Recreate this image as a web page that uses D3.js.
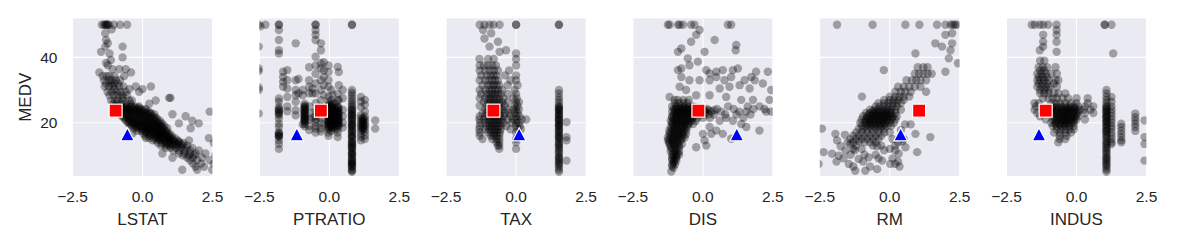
<!DOCTYPE html>
<html>
<head>
<meta charset="utf-8">
<script src="https://cdn.jsdelivr.net/npm/d3@7"></script>
<style>
  body { margin: 0; background: #ffffff; }
  svg text { font-family: "Liberation Sans", Arial, sans-serif; fill: #262626; }
</style>
</head>
<body>
<script>
// feature names, one panel each (x = standardized feature, y = MEDV)
var features = ["LSTAT", "PTRATIO", "TAX", "DIS", "RM", "INDUS"];

// two highlighted samples
var redMedv = 23.7;
var redX = [-0.96, -0.30, -0.81, -0.16, 1.05, -1.10];
var blueMedv = 16.4;
var blueX = [-0.54, -1.16, 0.11, 1.21, 0.39, -1.34];

var yTicks = [20, 40];
var xTicks = [-2.5, 0, 2.5];

// rows: [MEDV, [feature values at that MEDV]]
var lstatRows = [
  [50, [-1.45, -1.38, -1.33, -1.3, -1.27, -1.24, -1.2, -1.02, -0.8, -0.55]],
  [48.6, [-1.1]], [47.4, [-1.33]], [45.3, [-1.3]], [44.3, [-1.24]],
  [43.3, [-1.33, -0.71]], [41.7, [-1.48]], [41.2, [-1.18]], [40, [-0.71]],
  [39.2, [-1.13]], [38.3, [-1.3]], [37.6, [-1.24]],
  [36.4, [-1.07, -0.83, -0.6]], [35.4, [-1.54, -0.41]],
  [34.3, [-1.42, -1.28, -1.18, -1.0, -0.65]],
  [33, [-1.38, -1.2, -1.1, -0.95, -0.8]],
  [32, [-1.3, -1.13, -1.02, -0.88]],
  [31.1, [-1.35, -1.2, -1.05, -0.83, -0.68, -0.24, 0.3]],
  [30.3, [-1.0, -0.47, 0.0]],
  [29.5, [-1.25, -1.1, -0.92, -0.78, -0.6, -0.12]],
  [28.4, [-1.18, -1.02, -0.87, -0.72, -0.55]],
  [27.6, [-0.71, 0.95, 1.0]],
  [26.8, [-1.12, -0.98, -0.89, -0.7, -0.47, -0.38, 0.47]],
  [25.8, [-1.05, -0.9, -0.75, -0.6, -0.42, 0.24]],
  [25, [-1.0, -0.85, -0.7, -0.55, -0.4, -0.28, -0.12]],
  [24.6, [-0.9, -0.72, -0.58, -0.44, -0.3, -0.14]],
  [24.2, [-0.95, -0.78, -0.62, -0.5, -0.35, -0.18, -0.05, 0.12]],
  [23.8, [-0.82, -0.66, -0.52, -0.38, -0.22, -0.08, 0.08]],
  [23.4, [-0.88, -0.7, -0.56, -0.42, -0.26, -0.1, 0.05, 0.22, 2.4]],
  [23, [-0.76, -0.6, -0.46, -0.3, -0.14, 0.0, 0.16, 0.3]],
  [22.6, [-0.8, -0.64, -0.5, -0.35, -0.18, -0.04, 0.12, 0.28, 0.42, 1.07]],
  [22, [-0.72, -0.58, -0.42, -0.26, -0.1, 0.06, 0.2, 0.36, 1.54]],
  [21.6, [-0.62, -0.46, -0.32, -0.16, 0.0, 0.14, 0.3, 0.46]],
  [21.2, [-0.65, -0.5, -0.36, -0.2, -0.06, 0.1, 0.24, 0.4, 0.52]],
  [20.6, [-0.58, -0.44, -0.3, -0.14, 0.0, 0.16, 0.3, 0.46, 0.62, 1.78]],
  [20.2, [-0.5, -0.34, -0.2, -0.04, 0.1, 0.26, 0.42, 0.56]],
  [19.8, [-0.5, -0.36, -0.22, -0.06, 0.1, 0.24, 0.38, 0.54, 0.7, 1.3, 2.01]],
  [19.4, [-0.4, -0.24, -0.1, 0.06, 0.2, 0.36, 0.5, 0.66]],
  [19, [-0.42, -0.28, -0.12, 0.04, 0.18, 0.32, 0.48, 0.62, 0.78]],
  [18.7, [-0.2, -0.06, 0.08, 0.24, 0.38, 0.54, 0.68]],
  [18.3, [-0.3, -0.16, 0.0, 0.14, 0.3, 0.44, 0.58, 0.72, 0.88, 1.72]],
  [17.9, [0.0, 0.16, 0.3, 0.46, 0.6, 0.76]],
  [17.5, [-0.2, -0.04, 0.12, 0.26, 0.4, 0.56, 0.7, 0.86]],
  [17.1, [0.1, 0.24, 0.4, 0.54, 0.7, 0.84]],
  [16.7, [-0.36, 0.02, 0.18, 0.34, 0.5, 0.64, 0.8, 0.96, 0.59]],
  [16.3, [0.3, 0.46, 0.62, 0.78, 0.92]],
  [16, [0.1, 0.26, 0.42, 0.58, 0.72, 0.88, 1.04]],
  [15.6, [0.5, 0.66, 0.82, 0.98]],
  [15.3, [0.12, 0.24, 0.4, 0.55, 0.7, 0.86, 1.0, 1.16, 2.37]],
  [14.9, [0.6, 0.76, 0.92, 1.08]],
  [14.6, [0.36, 0.5, 0.66, 0.8, 0.96, 1.1, 1.26, 1.66]],
  [14.2, [0.8, 0.96, 1.12, 1.3]],
  [13.8, [0.55, 0.7, 0.86, 1.0, 1.16, 1.3, 1.46, 2.55]],
  [13.4, [0.9, 1.06, 1.22, 1.38]],
  [13, [0.66, 0.82, 0.98, 1.12, 1.28, 1.44, 1.6]],
  [12.3, [0.83, 1.0, 1.2, 1.38, 1.56, 1.78]],
  [11.5, [1.1, 1.3, 1.5, 1.7, 2.01]],
  [10.6, [0.71, 1.3, 1.5, 1.7, 1.9, 2.25]],
  [10, [1.45, 1.65, 1.85, 2.6]],
  [9.3, [1.07, 1.6, 1.8, 2.13]],
  [8.5, [1.7, 1.95, 2.4]],
  [7.5, [1.8, 2.1, 2.55]],
  [6.5, [1.9, 2.2]],
  [5.6, [1.42, 1.95, 2.49]]
];

// columns: [feature value, [MEDV values in that column]]
var ptratioCols = [
  [-2.52, [50, 43.3, 36.6, 35.8, 30.8, 30, 22.8]],
  [-2.46, [49.5]],
  [-2.28, [50]],
  [-1.8, [50, 50, 48.4, 45.3, 42.2, 41.2, 27.4, 26.4, 24.8, 24.2, 23.8, 23.6, 23, 22.8, 22.3, 21.2, 19.7, 18.7, 17.1, 16.8, 16.3, 16.1, 15.9, 15.6, 14.6, 13.5, 12]],
  [-1.65, [35.6, 34, 32.5, 31]],
  [-1.5, [36.1, 33, 30.5, 27.9, 25, 23.5]],
  [-1.2, [44.3, 33, 30, 28.4, 26.4, 23.8, 22.3]],
  [-1.1, [33.4, 29]],
  [-0.95, [30, 28.4, 19.5]],
  [-0.88, [25.8, 25.2, 24.9, 24.6, 24.3, 24, 23.7, 23.4, 23.1, 22.8, 22.5, 22.2, 21.9, 21.6, 21.3, 21, 20.8, 20.5, 20.2, 19.7, 18.9]],
  [-0.72, [37, 33, 31, 29, 25, 21, 19, 17.8]],
  [-0.6, [30.5, 29, 23, 21.5]],
  [-0.49, [50, 50, 48.4, 46.9, 45.3, 40.2, 37.5, 35, 32, 29, 26, 23.6, 22, 21, 20.2, 19, 18.2, 17]],
  [-0.3, [44.3, 42.2, 38.2, 36.6, 33, 30, 26.9, 24.8, 23, 21.5, 20, 18.2, 17.3]],
  [-0.2, [38.5, 36, 34, 31.5, 28.5, 19.5]],
  [-0.03, [37.5, 35.5, 33, 31, 28, 26.5, 25.5, 25.1, 24.8, 24.4, 24, 23.6, 23.2, 22.8, 22.4, 22.1, 21.7, 21.4, 21, 20.6, 20.3, 19.9, 19.6, 19.2, 18.8, 18.4, 18, 17, 16]],
  [0.07, [30, 27, 25.5, 25, 24.5, 24.2, 23.7, 23.4, 22.9, 22.6, 22.2, 21.9, 21.5, 21.2, 20.8, 20.4, 20, 19.6, 19.2, 18.9, 18.5, 17.5]],
  [0.11, [28.6, 26, 24.9, 24, 23.2, 22.5, 21.8, 21, 20.2, 19.4, 18.6]],
  [0.2, [26, 24.5, 23.8, 23, 22.4, 21.6, 20.9, 20.1, 19.4, 18.7, 17.9]],
  [0.3, [37.1, 28.9, 26.8, 25, 24.6, 24, 23.5, 23, 22.6, 22.2, 21.8, 21.4, 21, 20.6, 20.2, 19.8, 19.4, 19, 18.1, 17, 15.6]],
  [0.34, [35.5, 31.5, 27, 24.5, 23.5, 22.6, 21.7, 20.8, 20, 19.2]],
  [0.48, [30, 27.5, 24, 22, 20, 18.5]],
  [0.81, [50, 50, 30, 29.2, 28.4, 27.5, 26.7, 26, 25.3, 24.8, 24.1, 23.9, 23.7, 23.1, 22.6, 22.4, 22.2, 21.7, 21.2, 21, 20.6, 20.1, 19.6, 19.4, 19.1, 18.8, 18.4, 17.8, 17.5, 17.2, 16.7, 16.1, 15.9, 15.6, 15.2, 14.5, 14.1, 13.9, 13.4, 13.1, 12.7, 12.4, 12.1, 11.7, 11.0, 10.7, 10.4, 10.2, 9.6, 9.2, 8.8, 8.4, 8.1, 7.8, 7.5, 7.2, 7.0, 6.6, 6.3, 5.6, 5.3, 5.0]],
  [1.13, [27.9, 26.5, 24.8, 22.3, 21.5, 20.6, 19.8, 19.1, 18.4, 17.6, 16.6, 15.6, 14.6]],
  [1.2, [21.4, 20.9, 20.4, 20, 19.4, 18.8, 18.4, 17.9]],
  [1.27, [27, 25.5, 23.4, 21.9, 21.1, 20.3, 19.5, 18.9, 18.1, 17.2, 16.1, 15]],
  [1.64, [20.7, 18.2]]
];

var taxRows = [
  [50, [-1.3, -1.13, -0.95, -0.81, -0.59, 0.0, 0.0]],
  [48.4, [-1.18]], [47.4, [-0.89]], [45.8, [-1.13]], [44.8, [-0.65]],
  [43.3, [-0.95]], [42.2, [-0.36]], [41.7, [-0.59]], [41.2, [0.0]],
  [39.5, [-1.31, -1.0, -0.8, 0.0]],
  [37.5, [-1.3, -1.15, -1.0, -0.85, -0.72, 0.0]],
  [36, [-1.3, -1.1, -0.95, -0.8, -0.65, -0.25]],
  [34.5, [-1.25, -1.05, -0.9, -0.8, -0.7, -0.4, 0.0]],
  [33, [-1.3, -1.1, -0.97, -0.85, -0.75, -0.65, -0.2, 0.0]],
  [31.5, [-1.2, -1.0, -0.9, -0.8, -0.7, -0.6, -0.3, 0.05]],
  [30, [-1.3, -1.1, -0.95, -0.85, -0.75, -0.65, -0.5, -0.05]],
  [28.8, [-1.25, -1.05, -0.95, -0.85, -0.75, -0.65, -0.55, -0.3, 0.0]],
  [27.5, [-1.3, -1.1, -0.97, -0.9, -0.8, -0.7, -0.6, -0.45, -0.1, 0.02]],
  [26.3, [-1.15, -1.0, -0.9, -0.8, -0.7, -0.6, -0.5, -0.3, 0.0, 0.1]],
  [25.2, [-1.3, -1.05, -0.95, -0.85, -0.75, -0.65, -0.55, -0.4, -0.05, 0.05]],
  [24.1, [-1.1, -1.0, -0.9, -0.8, -0.7, -0.6, -0.5, -0.3, -0.1, 0.0, 0.1]],
  [23, [-1.2, -1.05, -0.95, -0.85, -0.75, -0.65, -0.55, -0.4, -0.25, -0.05, 0.05]],
  [22, [-1.3, -1.1, -0.97, -0.87, -0.77, -0.67, -0.57, -0.45, -0.2, 0.0, 0.12]],
  [21, [-1.31, -1.14, -1.0, -0.9, -0.8, -0.7, -0.6, -0.5, -0.3, -0.1, 0.02, 0.2, 0.36]],
  [20, [-1.28, -1.1, -0.97, -0.87, -0.77, -0.67, -0.57, -0.45, -0.15, 0.0, 0.1]],
  [19, [-1.3, -1.05, -0.95, -0.85, -0.75, -0.65, -0.55, -0.35, 0.0, 0.13]],
  [18, [-1.31, -1.1, -0.95, -0.85, -0.75, -0.65, -0.55, -0.2, 0.05, 0.17]],
  [17, [-1.3, -1.0, -0.88, -0.78, -0.68, -0.58, 0.0]],
  [16, [-1.3, -0.9, -0.8, -0.7, -0.6, 0.1]],
  [15, [-1.2, -0.85, -0.7, -0.6, 0.0]],
  [14, [-0.7, -0.6, 0.0]],
  [13, [-0.65, -0.6]],
  [12, [-0.6, 0.0]]
];
var taxCols = [
  [1.53, [50, 50, 30, 29, 27.9, 27, 26.1, 25.3, 24.8, 24.5, 24.2, 23.9, 23.6, 23.1, 22.7, 22.4, 22.1, 21.6, 21.1, 20.9, 20.7, 20.2, 19.6, 19.4, 19.2, 18.8, 18.3, 17.8, 17.5, 17.1, 16.6, 16.1, 15.6, 15.4, 15.1, 14.4, 13.9, 13.4, 13.0, 12.6, 12.0, 11.5, 10.9, 10.4, 9.7, 9.3, 8.9, 8.4, 7.9, 7.4, 7.0, 6.4, 5.6, 5.0]],
  [1.8, [20.2, 15.6, 14.6, 8.4]]
];

var disRows = [
  [50, [-1.25, -1.19, -0.89, -0.83, -0.71, -0.42, -0.3, 0.89, 1.01]],
  [48.4, [-0.12]], [46.9, [-0.24]], [45.3, [0.42]], [44.8, [-0.42]],
  [43.8, [1.19]], [42.7, [-0.77]], [42.2, [1.17]], [41.7, [-0.89, 0.06]],
  [39.7, [-0.54]], [38.7, [-0.18]], [37.6, [-0.48]],
  [36.6, [-0.77, 1.25]], [36.1, [-0.89, 0.12, 0.71, 1.07]],
  [35.6, [0.48, 1.9, 2.32]], [35.1, [0.24]],
  [34, [-0.77, 0.48, 1.01, 1.73]],
  [33, [-0.48, -0.12, 0.24, 0.77, 1.49, 1.85]],
  [32, [2.14]], [31.5, [1.31]],
  [31, [-0.83, 0.95]], [30.5, [0.6, 1.67]], [30, [-0.6, 2.44]],
  [28.4, [-0.24, 0.24]], [27.9, [-1.19, 0.83]],
  [27, [-1.01, -0.9, -0.7, -0.5, 1.37, 1.79, 2.38]],
  [26, [-1.0, -0.85, -0.7, -0.55]],
  [25, [-1.1, -0.95, -0.8, -0.65, -0.5, -0.35, 0.9, 1.6, 2.02]],
  [24.6, [-0.95, -0.8, -0.65, -0.5, -0.35, -0.2]],
  [24.2, [-1.05, -0.9, -0.75, -0.6, -0.45, -0.3, -0.15, 0.0, 0.15, 0.5, 1.1, 1.8, 2.2]],
  [23.8, [-1.0, -0.85, -0.7, -0.55, -0.4, -0.25, -0.1, 0.05, 0.2, 0.4]],
  [23.4, [-1.1, -0.95, -0.8, -0.65, -0.5, -0.35, -0.2, -0.05, 0.1, 0.3, 0.65, 1.3, 1.55, 2.26, 2.44]],
  [22.9, [-1.0, -0.85, -0.7, -0.55, -0.4, -0.25, -0.1, 0.1]],
  [22.5, [-1.05, -0.9, -0.75, -0.6, -0.45, -0.3, -0.15, 0.0, 0.2, 0.4, 0.8, 1.2, 1.7]],
  [22, [-1.1, -0.95, -0.8, -0.65, -0.5, -0.35]],
  [21.5, [-1.1, -0.95, -0.8, -0.65, -0.5, -0.35, -0.2, 0.0, 0.25, 0.83, 1.45]],
  [21, [-1.05, -0.9, -0.75, -0.6, -0.45]],
  [20.6, [-1.15, -1.0, -0.85, -0.7, -0.55, -0.4, -0.25, 0.6, 1.07]],
  [20.1, [-1.1, -0.95, -0.8, -0.65, -0.5]],
  [19.6, [-1.1, -0.95, -0.8, -0.65, -0.5, -0.35, 1.37]],
  [19.1, [-1.05, -0.9, -0.75, -0.6]],
  [18.7, [-1.15, -1.0, -0.85, -0.7, -0.55, 0.24, 1.55]],
  [18.1, [-1.1, -0.95, -0.8, -0.65]],
  [17.6, [-1.2, -1.05, -0.9, -0.75, -0.6, 0.48, 2.02]],
  [17.1, [-1.15, -1.0, -0.85, -0.7]],
  [16.6, [-1.2, -1.05, -0.9, -0.75, -0.6, 0.0, 0.3, 0.71]],
  [16.1, [-1.15, -1.0, -0.85, -0.7]],
  [15.5, [-1.25, -1.1, -0.95, -0.8, -0.65]],
  [15.1, [1.01]],
  [15, [-1.2, -1.05, -0.9, -0.75]],
  [14.6, [-1.25, -1.1, -0.95, -0.8, 0.06]],
  [14, [-1.2, -1.05, -0.9]],
  [13.5, [-1.2, -1.05, -0.9, -0.75]],
  [13, [-1.15, -1.0, -0.85, 0.12]],
  [12.5, [-0.24]],
  [12.4, [-1.15, -1.0, -0.85]],
  [11.8, [-1.1, -0.95]],
  [11.3, [-1.15, -1.0, -0.85]],
  [10.7, [-1.05, -0.9]],
  [10.2, [-1.1, -0.95, -0.85]],
  [9.7, [-1.05, -0.95]],
  [9.2, [-1.1, -0.95]],
  [8.7, [-1.1, -1.0]],
  [8.3, [-1.05, -0.95]],
  [7.7, [-1.05]],
  [7.2, [-1.1, -1.0]],
  [6.7, [-1.1]],
  [6.2, [-1.05]],
  [5.1, [-1.13]]
];

var rmRows = [
  [50, [-1.88, -0.61, 0.56, 1.06, 1.69, 1.99, 2.18, 2.26, 2.33, 2.4]],
  [47.4, [2.23]], [46.9, [1.99]], [44.3, [1.63, 2.23]], [43.3, [1.87]],
  [42.2, [2.17]], [41.2, [0.92]], [39.7, [2.11]], [38.2, [2.44]],
  [37, [1.0, 1.2, 1.35]],
  [36.1, [-0.21]], [35.6, [1.99]],
  [35, [0.9, 1.05, 1.2, 1.35, 1.5]],
  [33, [0.6, 0.8, 0.95, 1.1, 1.3]],
  [31, [0.3, 0.5, 0.7, 0.9, 1.1]],
  [29.5, [0.2, 0.4, 0.55, 0.75, 1.3]],
  [28, [-0.99, 0.0, 0.2, 0.35, 0.5, 0.7]],
  [27, [-0.2, 0.0, 0.15, 0.3, 0.5]],
  [26, [-0.4, -0.2, -0.05, 0.1, 0.25, 0.4]],
  [25, [-0.5, -0.35, -0.2, -0.05, 0.1, 0.25]],
  [24, [-0.7, -0.55, -0.4, -0.25, -0.1, 0.05, 0.2, 0.4]],
  [23.5, [-0.6, -0.45, -0.3, -0.15, 0.0]],
  [23, [-0.85, -0.7, -0.55, -0.4, -0.25, -0.1, 0.05, 0.2]],
  [22.5, [-0.75, -0.6, -0.45, -0.3, -0.15, 0.0]],
  [22, [-0.95, -0.8, -0.65, -0.5, -0.35, -0.2, -0.05, 0.1, 0.25]],
  [21.5, [-0.8, -0.65, -0.5, -0.35, -0.2, -0.05, 0.1]],
  [21, [-1.0, -0.85, -0.7, -0.55, -0.4, -0.25, -0.1, 0.05, 0.2]],
  [20.5, [-0.85, -0.7, -0.55, -0.4, -0.25, -0.1]],
  [20, [-1.05, -0.9, -0.75, -0.6, -0.45, -0.3, -0.15, 0.0, 0.15]],
  [19.5, [-0.8, -0.65, -0.5, -0.35, -0.2, 0.55, 0.75]],
  [19, [-1.0, -0.85, -0.7, -0.55, -0.4, -0.25, -0.1, 0.05]],
  [18.2, [-2.42, -1.1, -0.95, -0.8, -0.65, -0.5, -0.35, -0.2]],
  [17.8, [0.4]],
  [17, [-1.2, -1.0, -0.8, -0.6, -0.4, -0.2, 0.0]],
  [16.6, [-1.94, 0.92]],
  [16.3, [-1.6]],
  [16, [-1.3, -1.1, -0.9, -0.7, -0.5, -0.3]],
  [15.6, [1.45]],
  [15, [-1.4, -1.2, -1.0, -0.8, -0.6, -0.4, 0.1, 0.5]],
  [14.6, [-1.88]],
  [14.3, [-1.1, 0.45]],
  [14, [-1.5, -1.3, -0.9, -0.7, -0.5, 0.3]],
  [13.5, [-1.4]],
  [13, [-1.2, -0.6, -0.3, 0.2]],
  [12.8, [-1.75, -0.45]],
  [12.5, [0.56]],
  [12, [-1.3, -1.0, 0.0]],
  [11.6, [-1.25, -0.2, 0.2]],
  [11.5, [-1.58]], [11, [-2.36, 0.98]],
  [10.5, [-2.06, 0.32]], [10.2, [-1.4, -0.9, -0.5]],
  [9.9, [-1.82]], [9.4, [-0.75]],
  [9.1, [-1.65, -0.4, 0.1]],
  [8.9, [-1.11]], [8.4, [-0.27]],
  [8.1, [-1.9, -0.95, 0.3]],
  [7.4, [-2.54, -1.46, 0.02, 0.2]],
  [6.6, [-1.3, -0.7, 0.35]],
  [5.8, [-0.45]], [5.3, [-1.23, -0.87]]
];

var indusRows = [
  [50, [-1.6, -1.49, -1.31, -1.19, -1.01, -0.71, 1.01, 1.01, 1.25]],
  [48.4, [-0.71]], [46.9, [-1.19, -0.71]], [44.8, [-1.19, -0.71]],
  [43.3, [-1.19]], [42.2, [-1.31]], [41.7, [-0.71]], [41.2, [1.31]],
  [39, [-1.3, -1.15]],
  [37, [-1.35, -1.2, -1.05, -0.75]],
  [36, [-1.3, -1.15]],
  [35, [-1.4, -1.25, -1.1, -0.9, -0.7]],
  [34, [-1.35, -1.2, -1.05]],
  [33, [-1.4, -1.3, -1.15, -1.0, -0.75, -0.65]],
  [32, [-1.35, -1.2, -1.05, -0.8]],
  [31, [-1.4, -1.25, -1.1, -0.95, -0.7]],
  [30, [-1.3, -1.15, -1.0]],
  [29, [-1.3, -1.15, -1.0, -0.8, -0.65, -0.4]],
  [27.5, [-1.2, -1.0, -0.85, -0.7, -0.5, -0.3, 0.0, 0.4]],
  [26, [-1.5, -1.35, -0.9, -0.75, -0.6, -0.4, -0.2, 0.0, 0.4]],
  [25, [-1.45, -0.85, -0.7, -0.55, -0.4, -0.25, -0.1, 0.05, 0.3, 0.6]],
  [24.5, [-0.8, -0.65, -0.5, -0.35, -0.2, -0.05]],
  [24, [-1.5, -0.85, -0.7, -0.55, -0.4, -0.3, -0.2, -0.05, 0.1, 0.25, 0.5]],
  [23.5, [-0.85, -0.7, -0.55, -0.4, -0.25, -0.1, 0.05]],
  [23, [-1.4, -0.9, -0.75, -0.6, -0.45, -0.3, -0.15, 0.0, 0.3, 0.6]],
  [22.5, [-0.75, -0.6, -0.45, -0.3, -0.15, 0.0]],
  [22, [-1.3, -0.8, -0.65, -0.5, -0.4, -0.25, -0.1, 0.05]],
  [21.5, [-0.8, -0.65, -0.5, -0.35, -0.2, -0.05]],
  [21, [-1.1, -0.85, -0.7, -0.55, -0.4, -0.3, -0.15, 0.0, 0.3]],
  [20.5, [-0.7, -0.55, -0.4, -0.25, -0.1]],
  [20, [-0.9, -0.75, -0.6, -0.45, -0.35, -0.2, -0.1]],
  [19.5, [-0.75, -0.6, -0.45, -0.3]],
  [19, [-0.85, -0.7, -0.55, -0.4, -0.25, -0.1]],
  [18, [-0.7, -0.55, -0.4, -0.25, -0.1]],
  [17, [-0.8, -0.6, -0.4, -0.2]],
  [16, [-0.6, -0.35]],
  [15, [-0.6, -0.4]],
  [14, [-0.65]]
];
var indusCols = [
  [1.07, [30, 29, 27.9, 27, 26.1, 25.3, 24.8, 24.5, 24.2, 23.7, 23.4, 23.1, 22.6, 22.1, 21.9, 21.6, 21.2, 20.7, 20.4, 20.1, 19.6, 19.2, 18.7, 18.3, 17.8, 17.5, 17.2, 16.6, 16.1, 15.6, 15.1, 14.4, 13.9, 13.5, 13.0, 12.4, 12.0, 11.4, 10.9, 10.4, 9.7, 9.3, 8.9, 8.4, 7.9, 7.3, 7.0, 6.3, 5.6, 5.0]],
  [1.25, [27.9, 26.4, 25, 24, 23, 22, 21, 20, 19, 18.2, 17, 16, 15, 14, 13.5]],
  [1.6, [19.7, 18.7, 17.6, 16.6, 15.6, 14.6, 14]],
  [2.1, [22.8, 21.7, 20.7, 19.7, 18.7, 17.5]],
  [2.43, [20.7, 15.6, 13.5, 8.4]]
];

function fromRows(rows) {
  var pts = [];
  rows.forEach(function(r) { r[1].forEach(function(v) { pts.push([v, r[0]]); }); });
  return pts;
}
function fromCols(cols) {
  var pts = [];
  cols.forEach(function(c) { c[1].forEach(function(m) { pts.push([c[0], m]); }); });
  return pts;
}

var panelData = [
  fromRows(lstatRows),
  fromCols(ptratioCols),
  fromRows(taxRows).concat(fromCols(taxCols)),
  fromRows(disRows),
  fromRows(rmRows),
  fromRows(indusRows).concat(fromCols(indusCols))
];

// layout
var width = 1177, height = 246;
var panelLeft = 72.5, panelStep = 186.8, panelW = 140;
var plotTop = 18.5, plotBottom = 176;

var svg = d3.select("body").append("svg")
  .attr("width", width)
  .attr("height", height);

var xScale = d3.scaleLinear().domain([-2.5, 2.5]).range([0, panelW]);
var yScale = d3.scaleLinear().domain([3.7, 51.9]).range([plotBottom, plotTop]);

features.forEach(function(name, i) {
  var g = svg.append("g")
    .attr("transform", "translate(" + (panelLeft + i * panelStep) + ",0)");

  g.append("clipPath").attr("id", "clip" + i)
    .append("rect")
    .attr("x", 0).attr("y", plotTop)
    .attr("width", panelW).attr("height", plotBottom - plotTop);

  g.append("rect")
    .attr("x", 0).attr("y", plotTop)
    .attr("width", panelW).attr("height", plotBottom - plotTop)
    .attr("fill", "#eaeaf2");

  // grid
  g.selectAll(".vgrid").data(xTicks).enter().append("line")
    .attr("x1", function(d) { return xScale(d); })
    .attr("x2", function(d) { return xScale(d); })
    .attr("y1", plotTop).attr("y2", plotBottom)
    .attr("stroke", "#ffffff").attr("stroke-width", 1.1);
  g.selectAll(".hgrid").data(yTicks).enter().append("line")
    .attr("x1", 0).attr("x2", panelW)
    .attr("y1", function(d) { return yScale(d); })
    .attr("y2", function(d) { return yScale(d); })
    .attr("stroke", "#ffffff").attr("stroke-width", 1.1);

  var inner = g.append("g").attr("clip-path", "url(#clip" + i + ")");

  inner.selectAll("circle").data(panelData[i]).enter().append("circle")
    .attr("cx", function(d) { return xScale(d[0]); })
    .attr("cy", function(d) { return yScale(d[1]); })
    .attr("r", 4.2)
    .attr("fill", "#000000")
    .attr("fill-opacity", 0.33);

  // highlighted samples
  inner.append("rect")
    .attr("x", xScale(redX[i]) - 6.5)
    .attr("y", yScale(redMedv) - 6.5)
    .attr("width", 13).attr("height", 13)
    .attr("fill", "#ff0000")
    .attr("stroke", "#ffffff").attr("stroke-width", 1.2);

  inner.append("path")
    .attr("transform", "translate(" + xScale(blueX[i]) + "," + yScale(blueMedv) + ")")
    .attr("d", "M0,-6.8L6.8,6.3L-6.8,6.3Z")
    .attr("fill", "#0000ff")
    .attr("stroke", "#ffffff").attr("stroke-width", 1.2);

  // x tick labels
  g.selectAll(".xt").data(xTicks).enter().append("text")
    .attr("x", function(d) { return xScale(d); })
    .attr("y", 201.5)
    .attr("text-anchor", "middle")
    .style("font-size", "15.5px")
    .text(function(d) { return d3.format(".1f")(d).replace("-", "\u2212"); });

  g.append("text")
    .attr("x", panelW / 2)
    .attr("y", 224.5)
    .attr("text-anchor", "middle")
    .style("font-size", "17px")
    .text(name);

  if (i === 0) {
    g.selectAll(".yt").data(yTicks).enter().append("text")
      .attr("x", -15)
      .attr("y", function(d) { return yScale(d); })
      .attr("dy", "0.35em")
      .attr("text-anchor", "end")
      .style("font-size", "15.5px")
      .text(function(d) { return d; });

    g.append("text")
      .attr("transform", "translate(" + (-47) + "," + ((plotTop + plotBottom) / 2) + ") rotate(-90)")
      .attr("text-anchor", "middle")
      .attr("dy", "0.35em")
      .style("font-size", "17px")
      .text("MEDV");
  }
});
</script>
</body>
</html>
